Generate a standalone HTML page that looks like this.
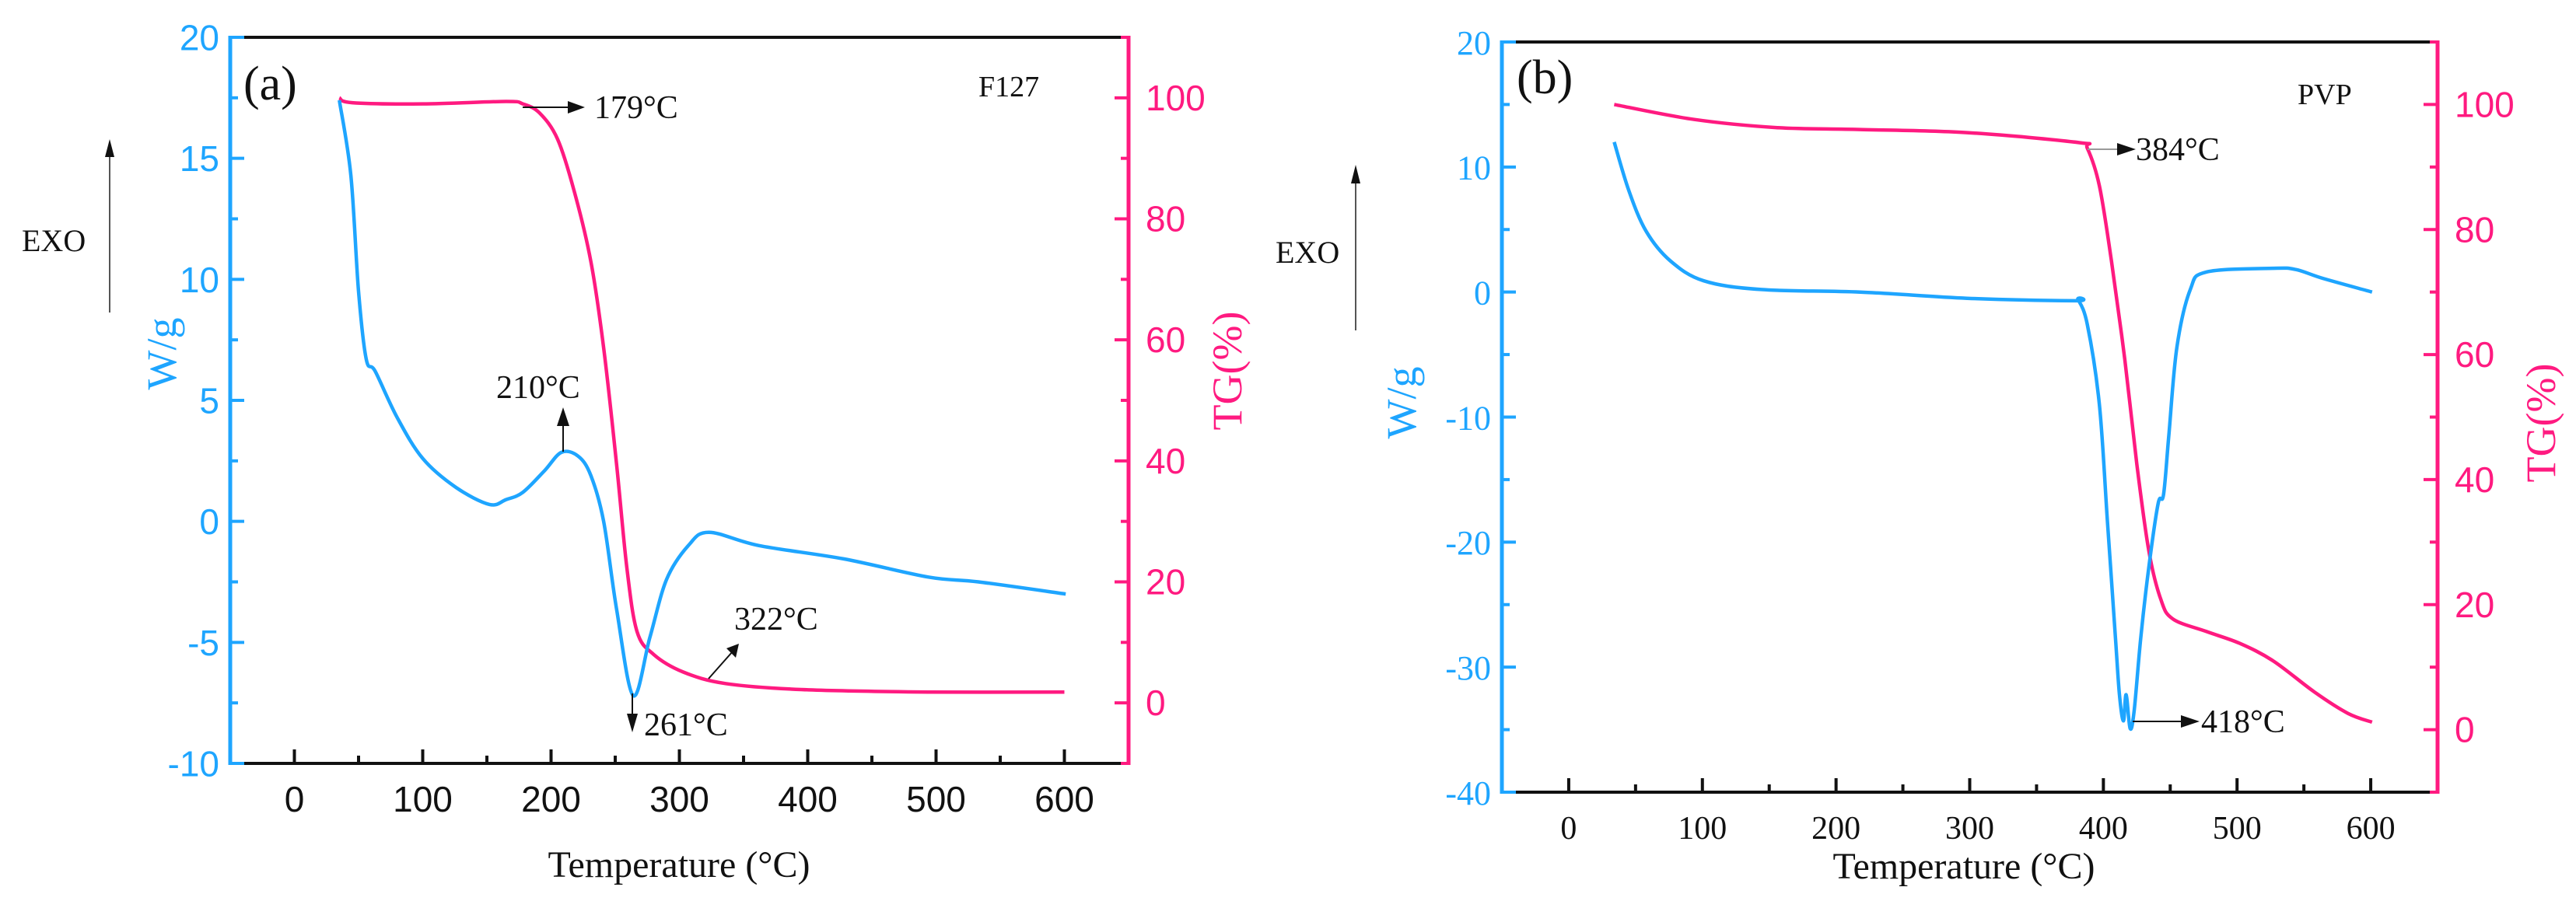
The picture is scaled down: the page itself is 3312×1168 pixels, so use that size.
<!DOCTYPE html>
<html><head><meta charset="utf-8">
<style>
html,body{margin:0;padding:0;background:#fff;}
svg{display:block;}
.serif{font-family:"Liberation Serif",serif;}
.sans{font-family:"Liberation Sans",sans-serif;}
</style></head>
<body>
<svg id="chart" width="3312" height="1168" viewBox="0 0 3312 1168" xmlns="http://www.w3.org/2000/svg">
<g id="pa"></g>
<g id="pb"></g>
</svg>
<script>
// Panel (a) F127 data
const aDscT = [35,44,50,56,63,80,100,126,152,165,178,195,208,221,231,241,251,264,277,290,307,323,362,428,494,533,601];
const aDscW = [17.4,14.3,9.5,6.7,6.2,4.3,2.6,1.4,0.7,0.9,1.2,2.1,2.85,2.7,1.9,0,-3.6,-7.2,-4.8,-2.4,-1.0,-0.45,-1.0,-1.55,-2.3,-2.5,-3.0];
const aTgT = [35,45,100,165,178,191,205,218,231,241,251,259,267,280,303,336,395,494,600];
const aTgV = [100,99.2,99,99.4,99,97.5,93.2,84.6,73,58.7,39.6,22.4,11.8,8,5.1,3.2,2.2,1.8,1.8];
// Panel (b) PVP data
const bDscT = [34,45,58,76,101,144,218,298,379,381,388,397,403,409,412,415,417,420,423,428,434,441,445,449,455,465,477,527,544,564,601];
const bDscW = [12.0,8.1,4.85,2.5,0.9,0.2,0,-0.5,-0.7,-0.6,-2.6,-9,-18.3,-27.6,-32.2,-34.3,-32.2,-34.9,-33.5,-27.6,-22,-16.9,-16.2,-11.4,-4.4,0.2,1.6,1.9,1.8,1.1,0];
const bTgT = [34,94,156,218,298,382,388,397,406,416,425,434,443,452,477,502,527,558,583,601];
const bTgV = [100,97.6,96.3,96,95.5,93.9,93,87,75,59.2,42.5,28.6,20.8,17.7,15.7,13.8,11,6,2.6,1.2];
// Tick labels
const xTicks = [0,100,200,300,400,500,600];
const aLeftTicks = [-10,-5,0,5,10,15,20];
const bLeftTicks = [-40,-30,-20,-10,0,10,20];
const rightTicks = [0,20,40,60,80,100];

const BLUE="#1ea5ff", PINK="#ff1a80";
const NS="http://www.w3.org/2000/svg";
function mk(parent,tag,attrs,text){const e=document.createElementNS(NS,tag);for(const k in attrs)e.setAttribute(k,attrs[k]);if(text!==undefined)e.textContent=text;parent.appendChild(e);return e;}
function smooth(pts){
  let d='M'+pts[0][0].toFixed(1)+','+pts[0][1].toFixed(1);
  for(let i=0;i<pts.length-1;i++){
    const p0=pts[Math.max(0,i-1)],p1=pts[i],p2=pts[i+1],p3=pts[Math.min(pts.length-1,i+2)];
    const c1x=p1[0]+(p2[0]-p0[0])/6,c1y=p1[1]+(p2[1]-p0[1])/6;
    const c2x=p2[0]-(p3[0]-p1[0])/6,c2y=p2[1]-(p3[1]-p1[1])/6;
    d+=' C'+c1x.toFixed(1)+','+c1y.toFixed(1)+' '+c2x.toFixed(1)+','+c2y.toFixed(1)+' '+p2[0].toFixed(1)+','+p2[1].toFixed(1);
  }
  return d;
}

function panel(g,cfg){
  const L=cfg.L,R=cfg.R,T=cfg.T,B=cfg.B;
  const sx=v=>L+(v+50)/700*(R-L);
  const syL=v=>B-(v-cfg.yMin)/(cfg.yMax-cfg.yMin)*(B-T);
  const syR=v=>B-(v+10)/120*(B-T);
  const tg=mk(g,'path',{d:smooth(cfg.tgT.map((t,i)=>[sx(t),syR(cfg.tgV[i])])),fill:'none',stroke:PINK,'stroke-width':4.5,'stroke-linejoin':'round'});
  
  
  const ds=mk(g,'path',{d:smooth(cfg.dscT.map((t,i)=>[sx(t),syL(cfg.dscW[i])])),fill:'none',stroke:BLUE,'stroke-width':4.5,'stroke-linejoin':'round'});
  
  
  const top=mk(g,'line',{x1:L,y1:T,x2:R,y2:T,stroke:'#111','stroke-width':4});
  
  
  const bot=mk(g,'line',{x1:L,y1:B,x2:R,y2:B,stroke:'#111','stroke-width':4});
  
  
  const la=mk(g,'line',{x1:L,y1:T-2,x2:L,y2:B+2,stroke:BLUE,'stroke-width':5});
  
  
  const ra=mk(g,'line',{x1:R,y1:T-2,x2:R,y2:B+2,stroke:PINK,'stroke-width':5});
  
  
  for(let v=-50;v<=650;v+=50){
    if(v===-50||v===650)continue;
    const maj=v%100===0;
    mk(g,'line',{x1:sx(v),y1:B,x2:sx(v),y2:B-(maj?18:10),stroke:'#111','stroke-width':4});
  }
  xTicks.forEach(v=>{
    const t=mk(g,'text',{x:sx(v),y:B+cfg.xLabDy,'text-anchor':'middle','font-size':cfg.xFont,fill:'#111',class:cfg.xCls},String(v));
    
    
  });
  const step=cfg.leftTicks[1]-cfg.leftTicks[0];
  for(let v=cfg.yMin;v<=cfg.yMax;v+=step/2){
    const maj=Math.abs((v-cfg.yMin)%step)<1e-6;
    mk(g,'line',{x1:L,y1:syL(v),x2:L+(maj?18:10),y2:syL(v),stroke:BLUE,'stroke-width':4});
  }
  cfg.leftTicks.forEach(v=>{
    const t=mk(g,'text',{x:L-14,y:syL(v)+cfg.lFont*0.36,'text-anchor':'end','font-size':cfg.lFont,fill:BLUE,class:cfg.lCls},String(v));
    
    
  });
  for(let v=-10;v<=110;v+=10){
    const maj=v%20===0;
    mk(g,'line',{x1:R,y1:syR(v),x2:R-(maj?18:10),y2:syR(v),stroke:PINK,'stroke-width':4});
  }
  rightTicks.forEach(v=>{
    const t=mk(g,'text',{x:R+22,y:syR(v)+16,'text-anchor':'start','font-size':46,fill:PINK,class:'sans'},String(v));
    
    
  });
}

panel(document.getElementById('pa'),{L:296,R:1451,T:48,B:982,yMin:-10,yMax:20,leftTicks:aLeftTicks,
  dscT:aDscT,dscW:aDscW,tgT:aTgT,tgV:aTgV,xFont:46,xCls:'sans',xLabDy:62,lFont:46,lCls:'sans'});
panel(document.getElementById('pb'),{L:1931,R:3134,T:54,B:1019,yMin:-40,yMax:20,leftTicks:bLeftTicks,
  dscT:bDscT,dscW:bDscW,tgT:bTgT,tgV:bTgV,xFont:42,xCls:'serif',xLabDy:60,lFont:44,lCls:'serif'});
</script>
<svg style="position:absolute;left:0;top:0" width="3312" height="1168" xmlns="http://www.w3.org/2000/svg">
<g fill="#111">
 <text x="313" y="128" font-size="62" font-family="Liberation Serif,serif">(a)</text>
 <text x="1258" y="124" font-size="38" font-family="Liberation Serif,serif">F127</text>
 <text x="764" y="152" font-size="42" font-family="Liberation Serif,serif">179°C</text>
 <line x1="672" y1="138" x2="740" y2="138" stroke="#111" stroke-width="2"/>
 <path d="M730,130 L752,138 L730,146 z" fill="#111"/>
 <text x="638" y="512" font-size="42" font-family="Liberation Serif,serif">210°C</text>
 <line x1="724" y1="581" x2="724" y2="540" stroke="#111" stroke-width="2"/>
 <path d="M716,548 L724,524 L732,548 z" fill="#111"/>
 <text x="944" y="810" font-size="42" font-family="Liberation Serif,serif">322°C</text>
 <line x1="911" y1="873" x2="942" y2="838" stroke="#111" stroke-width="2"/>
 <path d="M934,834 L950,828 L946,846 z" fill="#111"/>
 <text x="828" y="946" font-size="42" font-family="Liberation Serif,serif">261°C</text>
 <line x1="813" y1="892" x2="813" y2="925" stroke="#111" stroke-width="2"/>
 <path d="M806,918 L813,942 L820,918 z" fill="#111"/>
 <text x="28" y="323" font-size="40" font-family="Liberation Serif,serif">EXO</text>
 <line x1="141" y1="402" x2="141" y2="195" stroke="#555" stroke-width="2"/>
 <path d="M135,202 L141,179 L147,202 z" fill="#111"/>
 <text transform="translate(226,455) rotate(-90)" text-anchor="middle" font-size="54" fill="#1ea5ff" font-family="Liberation Serif,serif">W/g</text>
 <text transform="translate(1596,477) rotate(-90)" text-anchor="middle" font-size="54" fill="#ff1a80" font-family="Liberation Serif,serif">TG(%)</text>
 <text x="873" y="1128" text-anchor="middle" font-size="48" font-family="Liberation Serif,serif">Temperature (°C)</text>

 <text x="1950" y="120" font-size="62" font-family="Liberation Serif,serif">(b)</text>
 <text x="2954" y="134" font-size="38" font-family="Liberation Serif,serif">PVP</text>
 <text x="2746" y="206" font-size="42" font-family="Liberation Serif,serif">384°C</text>
 <line x1="2684" y1="192" x2="2730" y2="192" stroke="#999" stroke-width="2"/>
 <path d="M2722,184 L2746,192 L2722,200 z" fill="#111"/>
 <text x="2830" y="942" font-size="42" font-family="Liberation Serif,serif">418°C</text>
 <line x1="2742" y1="928" x2="2812" y2="928" stroke="#111" stroke-width="2"/>
 <path d="M2804,920 L2828,928 L2804,936 z" fill="#111"/>
 <text x="1640" y="338" font-size="40" font-family="Liberation Serif,serif">EXO</text>
 <line x1="1743" y1="425" x2="1743" y2="230" stroke="#555" stroke-width="2"/>
 <path d="M1737,236 L1743,212 L1749,236 z" fill="#111"/>
 <text transform="translate(1820,518) rotate(-90)" text-anchor="middle" font-size="54" fill="#1ea5ff" font-family="Liberation Serif,serif">W/g</text>
 <text transform="translate(3285,544) rotate(-90)" text-anchor="middle" font-size="54" fill="#ff1a80" font-family="Liberation Serif,serif">TG(%)</text>
 <text x="2525" y="1130" text-anchor="middle" font-size="48" font-family="Liberation Serif,serif">Temperature  (°C)</text>
</g>
</svg>
</body></html>
